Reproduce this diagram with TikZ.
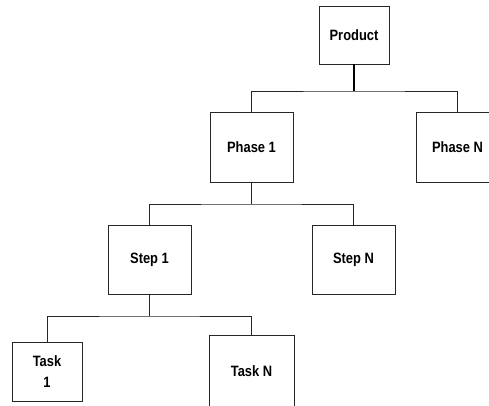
\documentclass[tikz,border=0pt]{standalone}
\usepackage{fontspec}
\setmainfont{Liberation Sans}
\newfontfamily\labelfont[FakeStretch=0.86]{Liberation Sans}
\begin{document}
\begin{tikzpicture}[x=1pt,y=-1pt,
  box/.style={draw=black!85, line width=0.8pt, rectangle, inner sep=0pt,
    align=center, font=\labelfont\fontsize{15}{21}\selectfont\bfseries},
  link/.style={draw=black!85, line width=0.8pt},
  trunk/.style={draw=black, line width=1.6pt}]
\useasboundingbox (0,0) rectangle (489,406);
\clip (0,0) rectangle (489,406);

% boxes of the breakdown
\node[box, minimum width=70pt, minimum height=58pt] (product) at (354,35) {Product};
\node[box, minimum width=83pt, minimum height=70pt] (phase1) at (251.5,147) {Phase 1};
\node[box, minimum width=83pt, minimum height=70pt] (phaseN) at (457.5,147) {Phase N};
\node[box, minimum width=83pt, minimum height=69pt] (step1) at (149.5,259.5) {Step 1};
\node[box, minimum width=83pt, minimum height=69pt] (stepN) at (353.5,259.5) {Step N};
\node[box, minimum width=70pt, minimum height=59pt] (task1) at (47,371.5) {Task\\1};
\node[box, minimum width=85pt, minimum height=72pt] (taskN) at (251.5,371) {Task N};

% bus junctions
\coordinate (bus1) at (354,91);
\coordinate (bus2) at (251.5,204);
\coordinate (bus3) at (149.5,316);

% connectors
\draw[trunk] (product.south) -- (bus1);
\draw[link] (phase1.north) |- (bus1) -| (phaseN.north);
\draw[link] (phase1.south) -- (bus2);
\draw[link] (step1.north) |- (bus2) -| (stepN.north);
\draw[link] (step1.south) -- (bus3);
\draw[link] (task1.north) |- (bus3) -| (taskN.north);
\end{tikzpicture}
\end{document}
